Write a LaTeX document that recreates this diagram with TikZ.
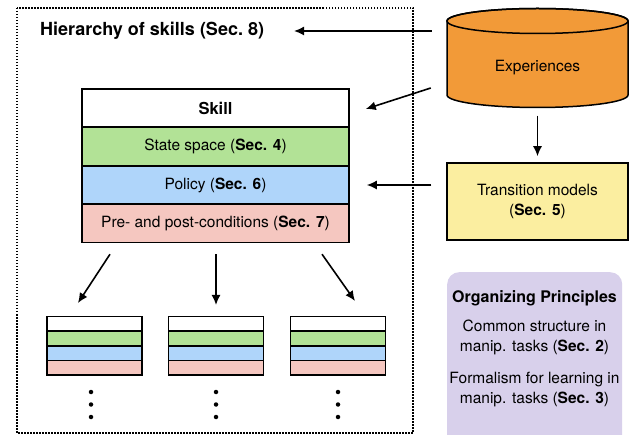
\documentclass[tikz,border=0pt]{standalone}
\usepackage{fontspec}
\setmainfont{TeX Gyre Heros}
\usetikzlibrary{arrows.meta}
\definecolor{cgreen}{RGB}{178,226,150}
\definecolor{cblue}{RGB}{175,213,250}
\definecolor{cpink}{RGB}{245,199,192}
\definecolor{corange}{RGB}{242,154,56}
\definecolor{cyellow}{RGB}{251,238,160}
\definecolor{cpurple}{RGB}{216,208,235}
\newcommand{\bodyfont}{\fontsize{15.5}{20}\selectfont}
\begin{document}
\begin{tikzpicture}[x=1pt,y=-1pt,
  arr/.style={line width=1.6pt,-{Latex[length=10pt,width=9pt]}},
  row/.style={draw,line width=1.5pt,inner sep=0pt,minimum width=267pt,minimum height=38.3pt,font=\bodyfont},
  mini/.style={draw,line width=1.5pt,inner sep=0pt,minimum width=95pt,minimum height=14.5pt},
  dotn/.style={circle,fill=black,inner sep=0pt,minimum size=4.5pt},
  txt/.style={inner sep=0pt,align=center,font=\bodyfont}]
\useasboundingbox (0,0) rectangle (629,435);
% dotted frame
\draw[line width=1.5pt,dash pattern=on 1.5pt off 1.5pt] (17,8) rectangle (413,433);
\node[anchor=west,inner sep=0pt,font=\bfseries\fontsize{18}{20}\selectfont] (title) at (40,31) {Hierarchy of skills (Sec.~8)};
% skill stack
\node[row,fill=white,font=\bfseries\fontsize{16.5}{20}\selectfont] (skill) at (215.5,108) {Skill};
\node[row,fill=cgreen] (state) at (215.5,146.5) {State space (\textbf{Sec. 4})};
\node[row,fill=cblue] (policy) at (215.5,185) {Policy (\textbf{Sec. 6})};
\node[row,fill=cpink] (cond) at (215.5,223.3) {Pre- and post-conditions (\textbf{Sec. 7})};
% mini stacks
\foreach \i/\x/\dx in {1/94.5/91,2/216/216,3/338/338}{
  \node[mini,fill=white] (s\i a) at (\x,324) {};
  \node[mini,fill=cgreen] (s\i b) at (\x,338.5) {};
  \node[mini,fill=cblue] (s\i c) at (\x,353.5) {};
  \node[mini,fill=cpink] (s\i d) at (\x,368) {};
  \node[dotn] (d\i a) at (\dx,392) {};
  \node[dotn] (d\i b) at (\dx,404.5) {};
  \node[dotn] (d\i c) at (\dx,417) {};
}
% cylinder
\fill[corange,draw=black,line width=1.5pt] (447,21) -- (447,95)
  arc[start angle=180,end angle=360,x radius=90.5pt,y radius=12.5pt] -- (628,21)
  arc[start angle=0,end angle=180,x radius=90.5pt,y radius=12.5pt] -- cycle;
\draw[line width=1.5pt] (537.5,21) ellipse [x radius=90.5pt,y radius=12.5pt];
\node[inner sep=0pt,minimum width=181pt,minimum height=99pt] (cyl) at (537.5,58) {};
\node[txt] (exp) at (537.5,68) {Experiences};
% transition models
\node[draw,line width=1.5pt,fill=cyellow,minimum width=181pt,minimum height=77pt,inner sep=0pt,align=center,font=\bodyfont] (trans) at (537.5,201.5) {Transition models\\(\textbf{Sec. 5})};
% organizing principles
\node[fill=cpurple,rounded corners=12pt,minimum width=175pt,minimum height=175pt,inner sep=0pt,anchor=north west] (org) at (447,272) {};
\node[inner sep=0pt,font=\bfseries\fontsize{16}{20}\selectfont] (orgt) at (534.5,298) {Organizing Principles};
\node[txt] (org1) at (534.5,337) {Common structure in\\manip. tasks (\textbf{Sec. 2})};
\node[txt] (org2) at (534.5,389.5) {Formalism for learning in\\manip. tasks (\textbf{Sec. 3})};
% arrows
\draw[arr] ([shift={(-15,-27)}]cyl.west) -- (title.east -| 294,0);
\draw[arr] ([shift={(-16,30)}]cyl.west) -- ([shift={(16,1)}]skill.east);
\draw[arr] ([xshift=-15pt]policy.east -| trans.west) -- ([xshift=17pt]policy.east);
\draw[arr,shorten <=8pt,shorten >=6pt] (cyl.south) -- (trans.north);
\draw[arr] ([shift={(-105.5,11)}]cond.south) -- ([shift={(-16.5,-13)}]s1a.north);
\draw[arr] ([shift={(0.5,11)}]cond.south) -- ([shift={(0,-11)}]s2a.north);
\draw[arr] ([shift={(106.5,11)}]cond.south) -- ([shift={(17,-15)}]s3a.north);
\end{tikzpicture}
\end{document}
